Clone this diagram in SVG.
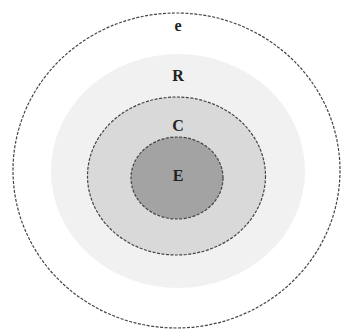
<svg xmlns="http://www.w3.org/2000/svg" width="341" height="329" viewBox="0 0 341 329">
<style>
.ring{stroke:#444;stroke-width:1.2;stroke-dasharray:3 1.5}
.lbl{font-family:"Liberation Serif",serif;font-weight:bold;font-size:16px;fill:#222;text-anchor:middle}
</style>
<rect width="341" height="329" fill="#fff"/>
<g id="e">
<ellipse cx="176.5" cy="170.5" rx="163.5" ry="157.5" fill="#fff" class="ring"/>
<text class="lbl" x="178" y="31">e</text>
</g>
<g id="R">
<ellipse cx="178" cy="171" rx="127" ry="117" fill="#f1f1f1"/>
<text class="lbl" x="178" y="81">R</text>
</g>
<g id="C">
<ellipse cx="176.5" cy="176" rx="89" ry="79" fill="#d9d9d9" class="ring"/>
<text class="lbl" x="178" y="131">C</text>
</g>
<g id="E">
<ellipse cx="177" cy="178" rx="46" ry="41" fill="#a3a3a3" class="ring"/>
<text class="lbl" x="178" y="181">E</text>
</g>
<g id="connectors"/>
</svg>
